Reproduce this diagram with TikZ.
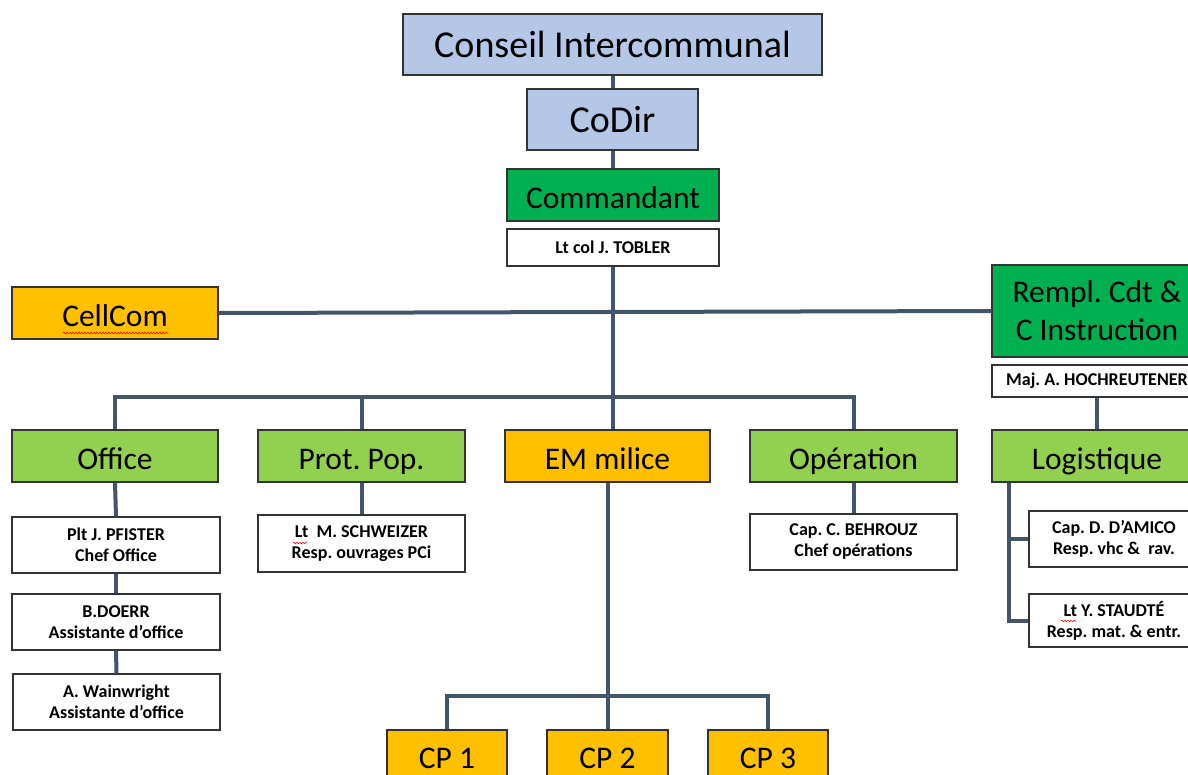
\documentclass[tikz,border=0pt]{standalone}
\usepackage{fontspec}
\setmainfont{Carlito}
\frenchspacing
\usetikzlibrary{decorations.pathmorphing}
\definecolor{cblue}{HTML}{B4C7E7}
\definecolor{cdgreen}{HTML}{00B050}
\definecolor{clgreen}{HTML}{92D050}
\definecolor{corange}{HTML}{FFC000}
\definecolor{cline}{HTML}{44546A}
\begin{document}
\begin{tikzpicture}[x=1pt,y=-1pt,
  box/.style={draw=black!80, line width=1.1pt, inner sep=0pt, align=center},
  huge/.style={box, font=\fontsize{38}{45}\selectfont\frenchspacing, text height=29pt, text depth=3pt},
  big/.style={box, font=\fontsize{31.5}{38}\selectfont\frenchspacing, text height=26pt, text depth=0pt},
  bigtwo/.style={box, font=\fontsize{31.5}{38}\selectfont\frenchspacing},
  small/.style={box, fill=white, font=\fontsize{18}{21}\selectfont\bfseries\frenchspacing},
  conn/.style={draw=cline, line width=4pt},
  squig/.style={draw=red, line width=0.6pt, decorate, decoration={snake, amplitude=0.8pt, segment length=3pt}}]
\useasboundingbox (0,0) rectangle (1188,774);
\fill[white] (0,0) rectangle (1188,774);
% top chain
\node[huge, fill=cblue, minimum width=419pt, minimum height=61pt] (conseil) at (612.5,44.5) {Conseil Intercommunal};
\node[huge, fill=cblue, minimum width=171pt, minimum height=61pt] (codir) at (612.5,119.5) {CoDir};
\node[big, fill=cdgreen, minimum width=212pt, minimum height=52pt] (cmd) at (613,195) {Commandant};
\node[small, minimum width=212pt, minimum height=37pt] (tobler) at (613,247.5) {Lt col J. TOBLER};
% side
\node[big, fill=corange, minimum width=206pt, minimum height=52pt] (cellcom) at (115,313) {CellCom};
\node[bigtwo, fill=cdgreen, minimum width=210pt, minimum height=92pt] (rempl) at (1097,311) {Rempl. Cdt \&\\C Instruction};
\node[small, minimum width=210pt, minimum height=32pt] (maj) at (1097,381) {Maj. A. HOCHREUTENER};
\node[big, fill=clgreen, minimum width=210pt, minimum height=52pt] (logist) at (1097,456) {Logistique};
% row of departments
\node[big, fill=clgreen, minimum width=206pt, minimum height=52pt] (office) at (115,456) {Office};
\node[big, fill=clgreen, minimum width=207pt, minimum height=52pt] (protpop) at (361.5,456) {Prot. Pop.};
\node[big, fill=corange, minimum width=205pt, minimum height=52pt] (em) at (607.5,456) {EM milice};
\node[big, fill=clgreen, minimum width=207pt, minimum height=52pt] (oper) at (853.5,456) {Opération};
% people
\node[small, minimum width=208pt, minimum height=56pt] (pfister) at (116,545) {Plt J. PFISTER\\Chef Office};
\node[small, minimum width=208pt, minimum height=56pt] (doerr) at (116,622) {B.DOERR\\Assistante d’office};
\node[small, minimum width=207pt, minimum height=56pt] (wain) at (116.5,702) {A. Wainwright\\Assistante d’office};
\node[small, minimum width=207pt, minimum height=57pt] (schweizer) at (361.5,543.5) {Lt~ M. SCHWEIZER\\Resp. ouvrages PCi};
\node[small, minimum width=207pt, minimum height=56pt] (behrouz) at (853.5,542) {Cap. C. BEHROUZ\\Chef opérations};
\node[small, minimum width=170pt, minimum height=56pt] (damico) at (1114,539) {Cap. D. D’AMICO\\Resp. vhc \& ~rav.};
\node[small, minimum width=170pt, minimum height=53pt] (staudte) at (1114,620.5) {Lt Y. STAUDTÉ\\Resp. mat. \& entr.};
% CP
\node[big, fill=corange, minimum width=120pt, minimum height=50pt] (cp1) at (447,755) {CP 1};
\node[big, fill=corange, minimum width=121pt, minimum height=50pt] (cp2) at (607.5,755) {CP 2};
\node[big, fill=corange, minimum width=120pt, minimum height=50pt] (cp3) at (768,755) {CP 3};
% connectors
\coordinate (bus) at (612,397);
\draw[conn] (conseil.south) -- (codir.north);
\draw[conn] (codir.south) -- (codir.south |- cmd.north);
\draw[conn] (tobler.south) -- (tobler.south |- em.north);
\draw[conn] (cellcom.east) -- (rempl.west);
\draw[conn] (office.north) -- (office.north |- bus) -| (oper.north);
\draw[conn] (protpop.north) -- (protpop.north |- bus);
\draw[conn] (maj.south) -- (logist.north);
\coordinate (lgx) at ([xshift=18pt]logist.south west);
\draw[conn] (lgx) |- (staudte.west);
\draw[conn] (lgx |- damico.west) -- (damico.west);
\draw[conn] (office.south) -- (pfister.north);
\draw[conn] (pfister.south) -- (doerr.north);
\draw[conn] (doerr.south) -- (wain.north);
\draw[conn] (protpop.south) -- (schweizer.north);
\draw[conn] (oper.south) -- (behrouz.north);
\draw[conn] (em.south) -- (cp2.north);
\draw[conn] (cp1.north) -- ++(0,-33) -| (cp3.north);
% spell-check squiggles
\draw[squig] (63,333) -- (168,333);
\draw[squig] (293,543) -- (307,543);
\draw[squig] (1061,621) -- (1076,621);
\end{tikzpicture}
\end{document}
